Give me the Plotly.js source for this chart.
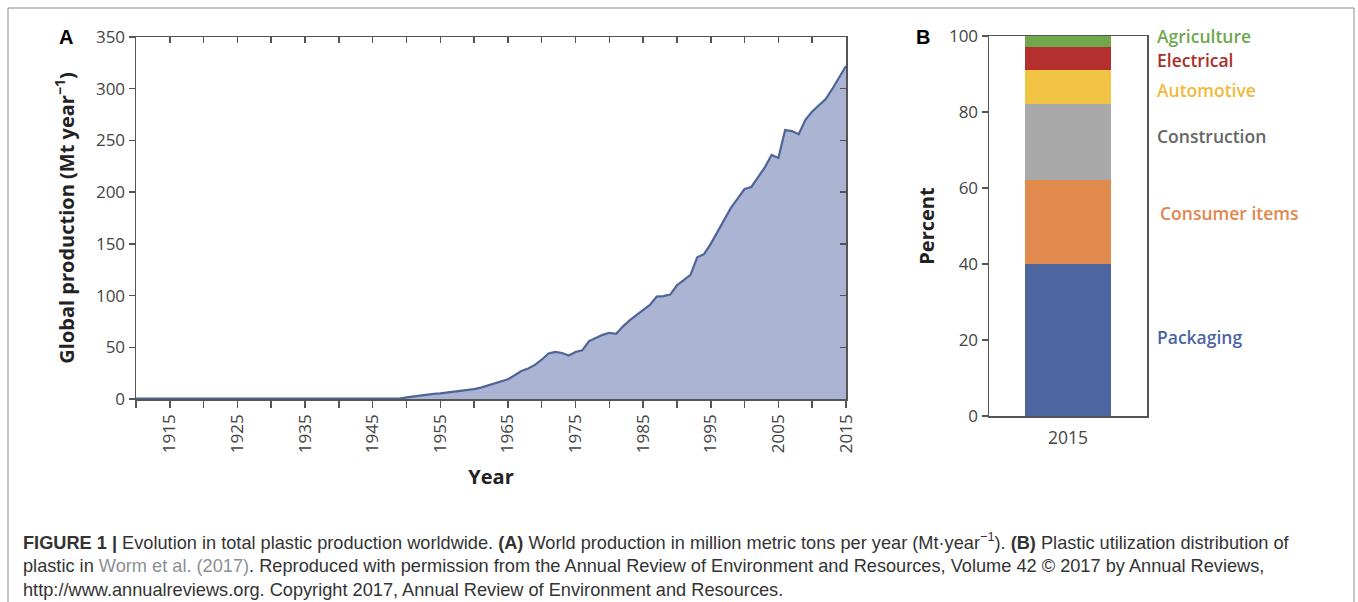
<!DOCTYPE html>
<html>
<head>
<meta charset="utf-8">
<script src="https://cdn.plot.ly/plotly-3.0.1.min.js"></script>
<style>
  html, body { margin: 0; padding: 0; background: #fff; }
  #chart { width: 1358px; height: 602px; }
</style>
</head>
<body>
<div id="chart"></div>
<script>
// ---------- Panel A data: global plastic production (Mt / year) ----------
const years = [1910, 1920, 1930, 1940, 1949,
  1950, 1951, 1952, 1953, 1954, 1955, 1956, 1957, 1958, 1959,
  1960, 1961, 1962, 1963, 1964, 1965, 1966, 1967, 1968, 1969,
  1970, 1971, 1972, 1973, 1974, 1975, 1976, 1977, 1978, 1979,
  1980, 1981, 1982, 1983, 1984, 1985, 1986, 1987, 1988, 1989,
  1990, 1991, 1992, 1993, 1994, 1995, 1996, 1997, 1998, 1999,
  2000, 2001, 2002, 2003, 2004, 2005, 2006, 2007, 2008, 2009,
  2010, 2011, 2012, 2013, 2014, 2015];
const production = [0.3, 0.3, 0.3, 0.3, 0.5,
  1.5, 2.5, 3.5, 4.5, 5, 5.5, 6.2, 7, 7.8, 8.6,
  9.5, 11, 13, 15, 17, 19, 23, 27, 29.5, 33,
  38, 44, 45.5, 44.5, 42, 45.5, 47, 56, 59, 62,
  64, 63, 70, 76, 81, 86, 91, 99, 99.5, 101,
  110, 115, 120, 137, 140, 150, 162, 173, 185, 194,
  203, 205, 214, 224, 236, 233, 260, 259, 256, 270,
  278, 284, 290, 300, 311, 322];

// labelled x ticks every 10 years, extra tick marks in between
const xLabelYears = [1915, 1925, 1935, 1945, 1955, 1965, 1975, 1985, 1995, 2005, 2015];
const xLabelText = ['1915', '1925', '1935', '1945', '1955', '1965', '1975', '1985', '1995', '2005', '2015'];
const xMinorYears = [1910, 1920, 1930, 1940, 1950, 1960, 1970, 1980, 1990, 2000, 2010];
const xAllTickYears = [1910, 1915, 1920, 1925, 1930, 1935, 1940, 1945, 1950, 1955, 1960,
  1965, 1970, 1975, 1980, 1985, 1990, 1995, 2000, 2005, 2010, 2015];
const yTicksA = [0, 50, 100, 150, 200, 250, 300, 350];

// ---------- Panel B data: plastic use by sector, 2015 (%) ----------
const barCategory = ['2015'];
const sectors = ['Packaging', 'Consumer items', 'Construction', 'Automotive', 'Electrical', 'Agriculture'];
const sectorShare = [40, 22, 20, 9, 6, 3];
const yTicksB = [0, 20, 40, 60, 80, 100];

// ---------- styles ----------
const sectorColors = ['#4e66a0', '#e08a4e', '#a9a9a9', '#f2c445', '#b4302e', '#70a84b'];
const labelColors  = ['#4d64a1', '#e0874d', '#666666', '#f0b93a', '#a8302c', '#6fa84c'];
// label vertical positions (percent axis units)
const labelPos = [20.8, 53.3, 73.8, 85.9, 93.8, 99.9];

const W = 1358, H = 602;
const px = x => x / W;
const py = y => 1 - y / H;
const FONT = 'Open Sans, Noto Sans, sans-serif';
const AXC = '#555';

const traces = [];
traces.push({
  type: 'scatter', mode: 'lines', x: years, y: production,
  xaxis: 'x', yaxis: 'y',
  fill: 'tozeroy', fillcolor: '#abb5d3',
  line: { color: '#4d6598', width: 2.2 },
  hoverinfo: 'x+y'
});
// invisible copy to activate the mirrored (inside-tick) overlay axes
traces.push({
  type: 'scatter', mode: 'lines', x: years, y: production,
  xaxis: 'x3', yaxis: 'y3', opacity: 0, line: { width: 0 }, hoverinfo: 'skip'
});
sectors.forEach((s, i) => {
  traces.push({
    type: 'bar', name: s, x: barCategory, y: [sectorShare[i]],
    xaxis: 'x2', yaxis: 'y2',
    marker: { color: sectorColors[i], line: { width: 0 } }
  });
});

const annotations = [];
annotations.push({ xref: 'paper', yref: 'paper', x: px(66), y: py(37), xanchor: 'center', yanchor: 'middle',
  text: '<b>A</b>', showarrow: false, font: { family: 'Liberation Sans, Arial, sans-serif', size: 20, color: '#000' } });
annotations.push({ xref: 'paper', yref: 'paper', x: px(923), y: py(37), xanchor: 'center', yanchor: 'middle',
  text: '<b>B</b>', showarrow: false, font: { family: 'Liberation Sans, Arial, sans-serif', size: 20, color: '#000' } });
sectors.forEach((s, i) => {
  annotations.push({ xref: 'paper', yref: 'y2', x: px(i === 1 ? 1158 : 1155), y: labelPos[i],
    xanchor: 'left', yanchor: 'middle', text: s, showarrow: false,
    font: { family: FONT, size: 17.5, color: labelColors[i], weight: 600 } });
});
const capFont = { family: 'Liberation Sans, Arial, sans-serif', size: 18.2, color: '#333' };
const capLines = [
  '<b>FIGURE 1 |</b> Evolution in total plastic production worldwide. <b>(A)</b> World production in million metric tons per year (Mt·year<sup>−1</sup>). <b>(B)</b> Plastic utilization distribution of',
  'plastic in <span style="color:#8a8f96">Worm et al. (2017)</span>. Reproduced with permission from the Annual Review of Environment and Resources, Volume 42 © 2017 by Annual Reviews,',
  'http://www.annualreviews.org. Copyright 2017, Annual Review of Environment and Resources.'
];
const capY = [541, 566, 590];
capLines.forEach((t, i) => {
  annotations.push({ xref: 'paper', yref: 'paper', x: px(21), y: py(capY[i]),
    xanchor: 'left', yanchor: 'middle', align: 'left', text: t, showarrow: false, font: capFont });
});

const tickFont = { family: FONT, size: 17, color: '#444' };

const layout = {
  width: W, height: H,
  margin: { l: 0, r: 0, t: 0, b: 0 },
  paper_bgcolor: '#fff', plot_bgcolor: '#fff',
  showlegend: false, barmode: 'stack', bargap: 0.46,
  xaxis: {
    domain: [px(136), px(846)], anchor: 'y', range: [1910, 2015],
    tickmode: 'array', tickvals: xLabelYears, ticktext: xLabelText,
    ticks: 'outside', ticklen: 7, tickwidth: 1.5, tickcolor: AXC,
    minor: { tickmode: 'array', tickvals: xMinorYears, ticks: 'outside', ticklen: 7, tickwidth: 1.5, tickcolor: AXC, showgrid: false },
    showline: true, linecolor: AXC, linewidth: 1.5, mirror: true,
    showgrid: false, zeroline: false, tickangle: -90,
    tickfont: { family: FONT, size: 17, color: '#444' },
    title: { text: '<b>Year</b>', font: { family: FONT, size: 20, color: '#222' }, standoff: 18 }
  },
  yaxis: {
    domain: [py(399), py(37)], anchor: 'x', range: [0, 350],
    tickmode: 'array', tickvals: yTicksA,
    ticks: 'outside', ticklen: 6, tickwidth: 1.5, tickcolor: AXC,
    showline: true, linecolor: AXC, linewidth: 1.5, mirror: true,
    showgrid: false, zeroline: false, tickfont: tickFont,
    title: { text: '<b>Global production (Mt year<sup>−1</sup>)</b>', font: { family: FONT, size: 20, color: '#222' }, standoff: 16 }
  },
  xaxis3: {
    overlaying: 'x', anchor: 'y3', side: 'top', range: [1910, 2015],
    tickmode: 'array', tickvals: xAllTickYears, ticks: 'inside', ticklen: 6, tickwidth: 1.5, tickcolor: AXC,
    showticklabels: false, showgrid: false, zeroline: false, showline: false
  },
  yaxis3: {
    overlaying: 'y', anchor: 'x3', side: 'right', range: [0, 350],
    tickmode: 'array', tickvals: yTicksA, ticks: 'inside', ticklen: 6, tickwidth: 1.5, tickcolor: AXC,
    showticklabels: false, showgrid: false, zeroline: false, showline: false
  },
  xaxis2: {
    domain: [px(989), px(1147)], anchor: 'y2', type: 'category', range: [-0.5, 0.5],
    ticks: 'outside', ticklen: 5, tickcolor: 'rgba(0,0,0,0)',
    showline: true, linecolor: AXC, linewidth: 1.5, mirror: true,
    showgrid: false, zeroline: false, tickfont: { family: FONT, size: 17.5, color: '#444' }
  },
  yaxis2: {
    domain: [py(416), py(36)], anchor: 'x2', range: [0, 100],
    tickmode: 'array', tickvals: yTicksB,
    ticks: 'outside', ticklen: 6, tickwidth: 1.5, tickcolor: AXC,
    showline: true, linecolor: AXC, linewidth: 1.5, mirror: true,
    showgrid: false, zeroline: false, tickfont: tickFont,
    title: { text: '<b>Percent</b>', font: { family: FONT, size: 20, color: '#222' }, standoff: 9 }
  },
  annotations: annotations,
  shapes: [{
    type: 'rect', xref: 'paper', yref: 'paper',
    x0: px(8), x1: px(1354), y0: -0.05, y1: py(8),
    line: { color: '#8c8c8c', width: 1 }, fillcolor: 'rgba(0,0,0,0)', layer: 'below'
  }]
};

Plotly.newPlot('chart', traces, layout, { staticPlot: true, displayModeBar: false });
</script>
</body>
</html>
